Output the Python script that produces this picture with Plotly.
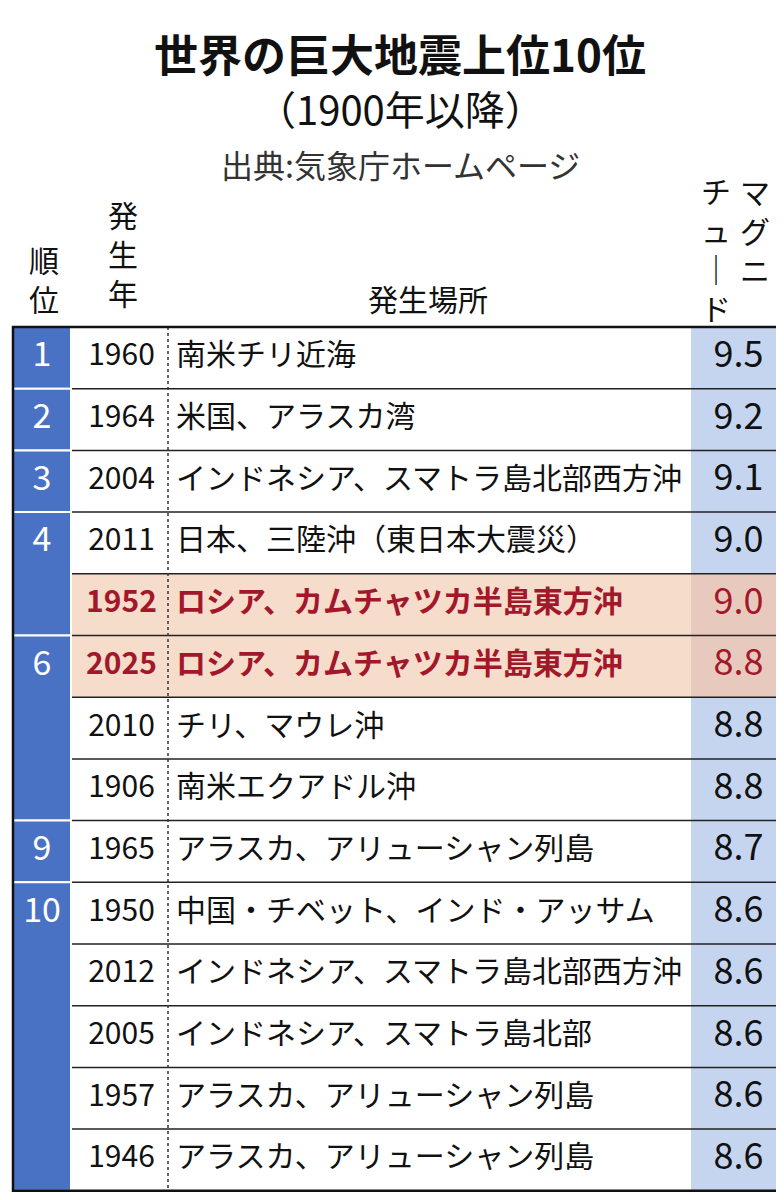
import plotly.graph_objects as go

ranks = ["1", "2", "3", "4", "", "6", "", "", "9", "10", "", "", "", ""]
years = ["1960", "1964", "2004", "2011", "1952", "2025", "2010", "1906", "1965", "1950", "2012", "2005", "1957", "1946"]
places = ["南米チリ近海", "米国、アラスカ湾", "インドネシア、スマトラ島北部西方沖", "日本、三陸沖（東日本大震災）",
          "ロシア、カムチャツカ半島東方沖", "ロシア、カムチャツカ半島東方沖", "チリ、マウレ沖", "南米エクアドル沖",
          "アラスカ、アリューシャン列島", "中国・チベット、インド・アッサム", "インドネシア、スマトラ島北部西方沖",
          "インドネシア、スマトラ島北部", "アラスカ、アリューシャン列島", "アラスカ、アリューシャン列島"]
mags = ["9.5", "9.2", "9.1", "9.0", "9.0", "8.8", "8.8", "8.8", "8.7", "8.6", "8.6", "8.6", "8.6", "8.6"]
highlight = [False, False, False, False, True, True, False, False, False, False, False, False, False, False]
rank_groups = [(0, 1), (1, 2), (2, 3), (3, 5), (5, 8), (8, 9), (9, 14)]

TOP, H = 319, 61.7
X0, XR, XY, XP, XM, X1 = 5, 63, 63, 160, 683, 778
FONT = "Noto Sans CJK JP"
BLUE, LBLUE, HL, HLM, RED = "#4a72c4", "#c6d5ef", "#f5dccb", "#e8c9bd", "#a3172a"

fig = go.Figure()
shapes = []
n = len(years)
bottom = TOP + H * n
shapes.append(dict(type="rect", x0=XM, x1=X1, y0=TOP, y1=bottom, fillcolor=LBLUE, line_width=0, layer="below"))
for i in range(n):
    y0, y1 = TOP + H * i, TOP + H * (i + 1)
    if highlight[i]:
        shapes.append(dict(type="rect", x0=XY, x1=XM, y0=y0, y1=y1, fillcolor=HL, line_width=0, layer="below"))
        shapes.append(dict(type="rect", x0=XM, x1=X1, y0=y0, y1=y1, fillcolor=HLM, line_width=0, layer="below"))
    if i > 0:
        shapes.append(dict(type="line", x0=XY, x1=X1, y0=y0, y1=y0, line=dict(color="#222", width=1.5), layer="below"))
for a, b in rank_groups:
    shapes.append(dict(type="rect", x0=X0, x1=XR, y0=TOP + H * a, y1=TOP + H * b, fillcolor=BLUE,
                       line=dict(color="white", width=2), layer="below"))
shapes.append(dict(type="line", x0=XP, x1=XP, y0=TOP, y1=bottom, line=dict(color="#333", width=1.5, dash="dot"), layer="below"))
shapes.append(dict(type="rect", x0=X0, x1=X1, y0=TOP, y1=bottom, line=dict(color="#111", width=2.5), layer="below"))

ys = [TOP + H * (i + 0.5) for i in range(n)]
cols = [RED if h else "#111" for h in highlight]
fig.add_trace(go.Scatter(x=[(X0 + XR) / 2] * n, y=ys, mode="text", text=ranks,
                         textfont=dict(family=FONT, size=34, color="white")))
fig.add_trace(go.Scatter(x=[(XY + XP) / 2 + 2] * n, y=ys, mode="text",
                         text=[f"<b>{t}</b>" if h else t for t, h in zip(years, highlight)],
                         textfont=dict(family=FONT, size=30, color=cols)))
fig.add_trace(go.Scatter(x=[XP + 8] * n, y=ys, mode="text",
                         text=[f"<b>{p}</b>" if h else p for p, h in zip(places, highlight)],
                         textposition="middle right", textfont=dict(family=FONT, size=30, color=cols)))
fig.add_trace(go.Scatter(x=[(XM + X1) / 2] * n, y=ys, mode="text", text=mags,
                         textfont=dict(family=FONT, size=36, color=cols)))

ann = [
    dict(x=392, y=45, text="<b>世界の巨大地震上位10位</b>", size=44, color="#111"),
    dict(x=392, y=100, text="（1900年以降）", size=40, color="#111"),
    dict(x=392, y=156, text="出典:気象庁ホームページ", size=32, color="#333"),
    dict(x=36, y=270, text="順<br>位", size=30, color="#111"),
    dict(x=115, y=245, text="発<br>生<br>年", size=30, color="#111"),
    dict(x=420, y=290, text="発生場所", size=30, color="#111"),
    dict(x=747, y=222, text="マ<br>グ<br>ニ", size=30, color="#111"),
    dict(x=708, y=240, text="チ<br>ュ<br>｜<br>ド", size=30, color="#111"),
]
annotations = []
for a in ann:
    annotations.append(dict(x=a["x"], y=a["y"], text=a["text"], xref="x", yref="y", showarrow=False,
                            font=dict(family=FONT, size=a["size"], color=a["color"])))

fig.update_layout(width=784, height=1200, margin=dict(l=0, r=0, t=0, b=0), showlegend=False,
                  plot_bgcolor="white", paper_bgcolor="white", shapes=shapes, annotations=annotations,
                  xaxis=dict(range=[0, 784], visible=False, fixedrange=True),
                  yaxis=dict(range=[1200, 0], visible=False, fixedrange=True))
fig.write_html("out.html")
